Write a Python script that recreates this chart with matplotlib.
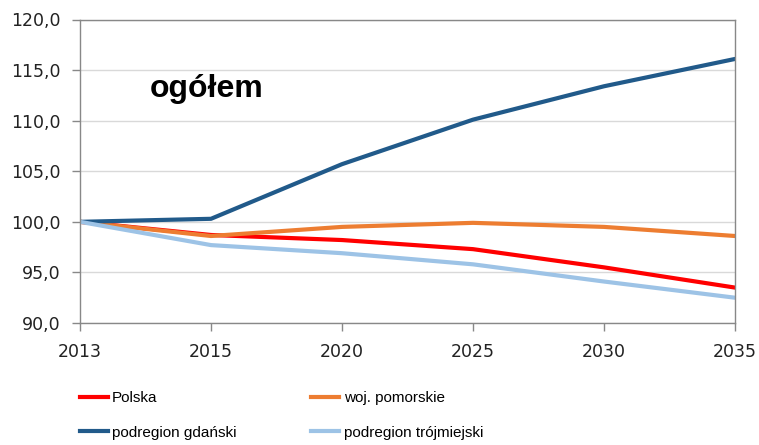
import matplotlib
matplotlib.use("Agg")
import matplotlib.pyplot as plt
from matplotlib.ticker import FuncFormatter

years = ["2013", "2015", "2020", "2025", "2030", "2035"]
polska = [100.0, 98.7, 98.2, 97.3, 95.5, 93.5]
pomorskie = [100.0, 98.6, 99.5, 99.9, 99.5, 98.6]
gdanski = [100.0, 100.3, 105.7, 110.1, 113.4, 116.1]
trojmiejski = [100.0, 97.7, 96.9, 95.8, 94.1, 92.5]
y_ticks = [90, 95, 100, 105, 110, 115, 120]
title_text = "ogółem"

fig = plt.figure(figsize=(7.59, 4.45), dpi=100)
ax = fig.add_axes([80/759, 1-323/445, (735-80)/759, (323-19.5)/445])

x = list(range(len(years)))
lw = 3.0
l1, = ax.plot(x, polska, color="#FF0000", lw=lw, label="Polska", solid_joinstyle="round")
l2, = ax.plot(x, pomorskie, color="#ED7D31", lw=lw, label="woj. pomorskie", solid_joinstyle="round")
l3, = ax.plot(x, gdanski, color="#215A8A", lw=lw, label="podregion gdański", solid_joinstyle="round")
l4, = ax.plot(x, trojmiejski, color="#9DC3E6", lw=lw, label="podregion trójmiejski", solid_joinstyle="round")

ax.set_xlim(0, len(years)-1)
ax.set_ylim(90, 120)
ax.set_xticks(x)
ax.set_xticklabels(years)
ax.set_yticks(y_ticks)
ax.yaxis.set_major_formatter(FuncFormatter(lambda v, p: f"{v:.1f}".replace(".", ",")))
ax.grid(axis="y", color="#D9D9D9", lw=1)
ax.set_axisbelow(True)
for s in ax.spines.values():
    s.set_color("#888888")
    s.set_linewidth(1)
ax.tick_params(axis="both", direction="out", length=5.5, color="#888888", width=1,
               labelsize=12.5, labelcolor="#222222")
ax.tick_params(axis="y", pad=8.5)
ax.tick_params(axis="x", pad=9)
for lab in ax.get_xticklabels() + ax.get_yticklabels():
    lab.set_family("DejaVu Sans")

fig.text(150/759, 1-97/445, title_text, fontsize=23, fontweight="bold",
         family="Liberation Sans", ha="left", va="baseline")

leg = fig.legend([l1, l3, l2, l4],
                 ["Polska", "podregion gdański", "woj. pomorskie", "podregion trójmiejski"],
                 ncol=2, loc="upper left", bbox_to_anchor=(80/759, 1-391/445),
                 frameon=False,
                 prop={"family": "Liberation Sans", "size": 11},
                 handlelength=1.8, handletextpad=0.3, columnspacing=4.9,
                 labelspacing=1.35, borderaxespad=0, borderpad=0)

fig.savefig("out.png", dpi=100)
